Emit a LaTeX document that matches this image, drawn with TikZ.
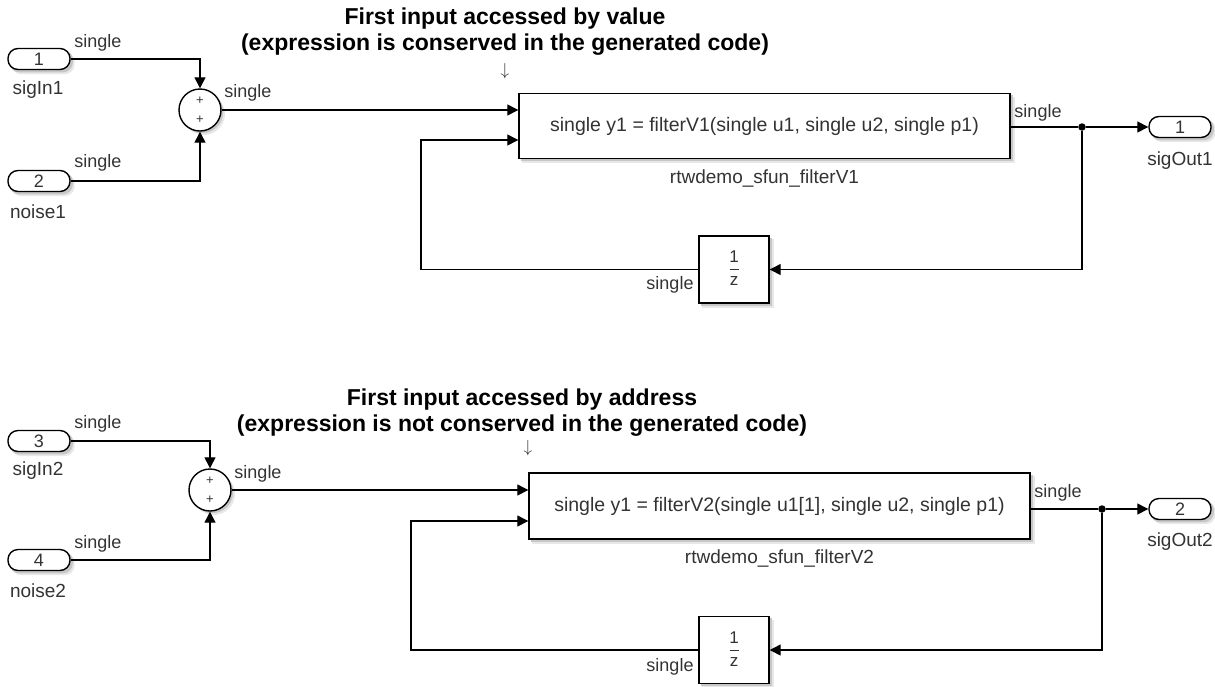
\documentclass[tikz,border=0pt]{standalone}
\usepackage{fontspec}
\setmainfont{Liberation Sans}
\usetikzlibrary{arrows.meta,calc,backgrounds}
\definecolor{txt}{HTML}{333333}
\newcommand\blkshadow[2][0pt]{%
  \fill[black!9,rounded corners=#1] ($(#2.north west)+(4,4)$) rectangle ($(#2.south east)+(4,4)$);
  \fill[black!22,rounded corners=#1] ($(#2.north west)+(2.2,2.2)$) rectangle ($(#2.south east)+(2.2,2.2)$);}
\newcommand\circshadow[1]{%
  \fill[black!9] ($(#1.center)+(4,4)$) circle (21pt);
  \fill[black!22] ($(#1.center)+(2.2,2.2)$) circle (21pt);}
\begin{document}
\begin{tikzpicture}[x=1pt,y=-1pt,
  port/.style={draw,line width=1.4pt,fill=white,rounded corners=10pt,minimum width=62pt,minimum height=21pt,inner sep=0pt,font=\fontsize{18}{18}\selectfont,text=txt},
  sumblk/.style={draw,circle,line width=1.4pt,fill=white,minimum size=42pt,inner sep=0pt},
  blk/.style={draw,line width=1.4pt,fill=white,inner sep=0pt,font=\fontsize{19.5}{19.5}\selectfont,text=txt},
  lbl/.style={font=\fontsize{18}{18}\selectfont,text=txt,inner sep=0pt},
  nm/.style={font=\fontsize{19}{19}\selectfont,text=txt,inner sep=0pt},
  pl/.style={font=\fontsize{13}{13}\selectfont,text=txt,inner sep=0pt},
  frac/.style={font=\rmfamily\fontsize{17}{17}\selectfont,text=txt,inner sep=0pt},
  ttl/.style={font=\bfseries\fontsize{23}{26}\selectfont,align=center,inner sep=0pt},
  darr/.style={font=\fontsize{17}{17}\selectfont,text=txt,inner sep=0pt},
  wire/.style={line width=1.3pt},
  sig/.style={line width=1.3pt,-{Triangle[length=11pt,width=11pt]}},
  dot/.style={circle,fill=black,inner sep=0pt,minimum size=7.5pt}]
\useasboundingbox (0,0) rectangle (1215,686);

% ===== top model =====
\node[ttl] (t1) at (505,32) {First input accessed by value\\(expression is conserved in the generated code)};
\node[darr] (a1) at (505,71) {$\downarrow$};

\node[port] (in1) at (39,59) {1};
\node[nm] (n_in1) at (38,90) {sigIn1};
\node[port] (in2) at (39,181) {2};
\node[nm] (n_in2) at (38,212) {noise1};

\node[sumblk] (sum1) at (200,110) {};
\node[pl] (p1a) at (200,101) {+};
\node[pl] (p1b) at (200,120) {+};

\node[blk,minimum width=491pt,minimum height=65pt] (B1) at (764.5,126) {single y1 = filterV1(single u1, single u2, single p1)};
\node[nm] (n_B1) at (764.5,178) {rtwdemo\_sfun\_filterV1};

\node[blk,minimum width=70pt,minimum height=67pt] (D1) at (734,269.5) {};
\node[frac] (D1n) at (734,257) {1};
\node[frac] (D1d) at (734,281) {z};
\draw[txt,line width=0.7pt] (729.5,269.5) -- (738.5,269.5);

\node[dot] (J1) at (1082,127) {};
\node[port] (out1) at (1180,127) {1};
\node[nm] (n_out1) at (1180,161) {sigOut1};

\coordinate (fb1) at (421,140);

\draw[sig] (in1.east) -| (sum1.north);
\draw[sig] (in2.east) -| (sum1.south);
\draw[sig] (sum1.east) -- (B1.west |- sum1.east);
\draw[wire] (B1.east |- J1) -- (J1);
\draw[sig] (J1) -- (out1.west);
\draw[sig] (J1) |- (D1.east);
\draw[sig] (D1.west) -| (fb1) -- (B1.west |- fb1);

\node[lbl] (s1) at (98,43) {single};
\node[lbl] (s2) at (98,163) {single};
\node[lbl] (s3) at (248,93) {single};
\node[lbl] (s4) at (1038,113) {single};
\node[lbl] (s5) at (670,285) {single};

% ===== bottom model =====
\node[ttl] (t2) at (522,413) {First input accessed by address\\(expression is not conserved in the generated code)};
\node[darr] (a2) at (528,448) {$\downarrow$};

\node[port] (in3) at (39,441) {3};
\node[nm] (n_in3) at (38,471) {sigIn2};
\node[port] (in4) at (39,560) {4};
\node[nm] (n_in4) at (38,591) {noise2};

\node[sumblk] (sum2) at (210,490) {};
\node[pl] (p2a) at (210,481) {+};
\node[pl] (p2b) at (210,500) {+};

\node[blk,minimum width=501pt,minimum height=66pt] (B2) at (779.5,506) {single y1 = filterV2(single u1[1], single u2, single p1)};
\node[nm] (n_B2) at (779.5,558) {rtwdemo\_sfun\_filterV2};

\node[blk,minimum width=70pt,minimum height=67pt] (D2) at (734,650) {};
\node[frac] (D2n) at (734,637.5) {1};
\node[frac] (D2d) at (734,661.5) {z};
\draw[txt,line width=0.7pt] (729.5,650) -- (738.5,650);

\node[dot] (J2) at (1102,509) {};
\node[port] (out2) at (1180,509) {2};
\node[nm] (n_out2) at (1180,542) {sigOut2};

\coordinate (fb2) at (411,521);

\draw[sig] (in3.east) -| (sum2.north);
\draw[sig] (in4.east) -| (sum2.south);
\draw[sig] (sum2.east) -- (B2.west |- sum2.east);
\draw[wire] (B2.east |- J2) -- (J2);
\draw[sig] (J2) -- (out2.west);
\draw[sig] (J2) |- (D2.east);
\draw[sig] (D2.west) -| (fb2) -- (B2.west |- fb2);

\node[lbl] (s6) at (98,424) {single};
\node[lbl] (s7) at (98,544) {single};
\node[lbl] (s8) at (258,474) {single};
\node[lbl] (s9) at (1058,493) {single};
\node[lbl] (s10) at (670,667) {single};

% ===== shadows =====
\begin{scope}[on background layer]
  \blkshadow{B1} \blkshadow{D1} \blkshadow{B2} \blkshadow{D2}
  \blkshadow[10pt]{in1} \blkshadow[10pt]{in2} \blkshadow[10pt]{in3} \blkshadow[10pt]{in4}
  \blkshadow[10pt]{out1} \blkshadow[10pt]{out2}
  \circshadow{sum1} \circshadow{sum2}
\end{scope}
\end{tikzpicture}
\end{document}
